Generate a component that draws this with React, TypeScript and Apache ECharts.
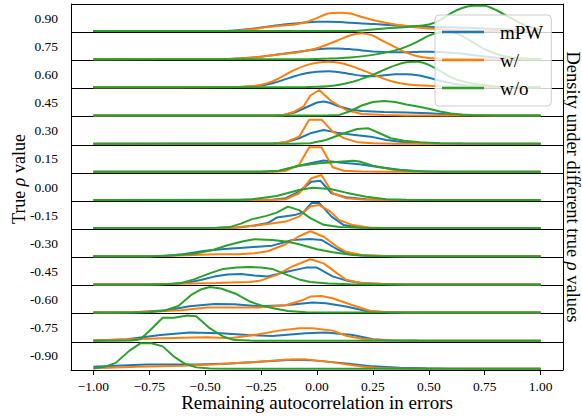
import React, { useEffect, useRef } from "react";
import * as echarts from "echarts";

// True rho values, top row to bottom row
const rhoValues = [0.9, 0.75, 0.6, 0.45, 0.3, 0.15, 0.0, -0.15, -0.3, -0.45, -0.6, -0.75, -0.9];
const xTicks = [-1, -0.75, -0.5, -0.25, 0, 0.25, 0.5, 0.75, 1];
const methodNames = ["mPW", "w/", "w/o"];
const methodColors = ["#1f77b4", "#ff7f0e", "#2ca02c"];

// density estimates, [remaining autocorrelation, density] per row (top to bottom)
const mpwDensity: number[][][] = [
  [[-0.4,0.3],[-0.35,1],[-0.3,2],[-0.25,3.5],[-0.2,5],[-0.15,6.5],[-0.1,7.5],[-0.05,8.5],[0,9.2],[0.05,9.3],[0.1,9],[0.15,8.3],[0.2,7.5],[0.25,7],[0.3,6.3],[0.35,5.6],[0.4,5],[0.45,4.6],[0.5,4.3],[0.55,4],[0.6,3.7],[0.65,3.3],[0.7,3],[0.75,2.5],[0.8,2],[0.85,1.5],[0.9,1],[0.95,0.5],[1,0.2]],
  [[-0.4,0.3],[-0.35,0.8],[-0.3,1.5],[-0.25,2.5],[-0.2,4],[-0.15,5.5],[-0.1,7],[-0.05,8.5],[0,10],[0.05,10.8],[0.1,10.8],[0.15,10],[0.2,8.8],[0.25,7.8],[0.3,7.2],[0.35,7],[0.4,7],[0.45,7.3],[0.5,7.5],[0.55,7.3],[0.6,6.5],[0.65,5.5],[0.7,4],[0.75,2.8],[0.8,1.8],[0.85,1],[0.9,0.5],[0.95,0.2],[1,0]],
  [[-0.35,0.3],[-0.3,0.8],[-0.25,1.8],[-0.2,4],[-0.15,7.5],[-0.1,11],[-0.05,14],[0,15.5],[0.05,16],[0.1,15],[0.15,13.3],[0.2,11.5],[0.25,11],[0.3,12],[0.35,13],[0.4,13],[0.45,12],[0.5,9.5],[0.55,6.5],[0.6,4],[0.65,2.3],[0.7,1.3],[0.75,0.7],[0.8,0.3],[0.9,0.1],[1,0]],
  [[-0.2,0],[-0.15,0.5],[-0.1,3],[-0.05,8],[0,13],[0.03,14],[0.06,12.5],[0.1,9],[0.15,6],[0.2,4.5],[0.3,3.5],[0.4,3],[0.5,2.2],[0.6,1],[0.7,0.4],[0.8,0.1],[0.9,0]],
  [[-0.2,0.2],[-0.14,1.4],[-0.08,5.4],[-0.03,10.3],[0.03,13.7],[0.09,11],[0.16,9],[0.24,7],[0.31,3.7],[0.39,1.4],[0.46,0.5],[0.55,0.1],[0.65,0]],
  [[-0.25,0],[-0.17,0.9],[-0.08,6],[-0.03,8.6],[0.03,11.2],[0.1,9.2],[0.19,7.6],[0.28,4.6],[0.37,2],[0.46,0.5],[0.55,0.1],[0.65,0]],
  [[-0.2,0.2],[-0.14,1.7],[-0.08,8.3],[-0.025,18.3],[0.015,19.3],[0.065,6.7],[0.13,2.7],[0.22,0.7],[0.3,0.2],[0.4,0]],
  [[-0.45,0],[-0.35,0.5],[-0.28,2.5],[-0.22,5],[-0.18,10.5],[-0.1,13],[-0.06,16],[-0.025,25],[0.01,25],[0.065,11.5],[0.12,3],[0.18,0.8],[0.25,0.2],[0.35,0]],
  [[-0.75,0],[-0.68,0.6],[-0.6,2],[-0.5,5.5],[-0.4,7.5],[-0.33,8.6],[-0.2,10.6],[-0.11,16.3],[-0.03,17.3],[0.02,16.3],[0.09,7],[0.14,2.3],[0.2,0.7],[0.3,0.2],[0.4,0]],
  [[-0.75,0],[-0.65,0.5],[-0.58,1.8],[-0.52,4.5],[-0.46,7.8],[-0.4,9.8],[-0.34,10.5],[-0.28,8.8],[-0.22,8],[-0.14,12.5],[-0.05,16.8],[0,16.8],[0.07,8],[0.14,3.3],[0.2,1.3],[0.3,0.3],[0.4,0]],
  [[-0.9,0],[-0.82,0.3],[-0.67,2.3],[-0.57,6.3],[-0.46,8.6],[-0.37,8.3],[-0.26,6.3],[-0.14,7.3],[-0.02,10],[0.04,9.3],[0.13,6],[0.22,1.6],[0.3,0.5],[0.4,0.1],[0.5,0]],
  [[-1,0.3],[-0.85,1.5],[-0.7,5.8],[-0.57,8.1],[-0.43,7.5],[-0.31,5.8],[-0.2,4.8],[-0.05,7.5],[0.04,8.1],[0.16,5.8],[0.25,1.5],[0.33,0.4],[0.45,0.1],[0.55,0]],
  [[-1,2],[-0.9,3],[-0.76,4.3],[-0.54,4.3],[-0.39,5.3],[-0.24,7.3],[-0.11,9],[-0.02,8.5],[0.13,5.5],[0.25,2.5],[0.37,1.2],[0.49,0.6],[0.6,0.2],[0.75,0]],
];

const withDensity: number[][][] = [
  [[-0.4,0],[-0.35,0.5],[-0.3,1.5],[-0.25,3],[-0.2,4.5],[-0.15,5.5],[-0.1,6.5],[-0.05,9],[0,13],[0.05,17.5],[0.1,18.3],[0.15,17.5],[0.2,14],[0.25,11],[0.3,8.5],[0.35,6.5],[0.4,5],[0.45,3.5],[0.5,2.5],[0.55,2],[0.6,1],[0.65,0.5],[0.7,0]],
  [[-0.4,0.3],[-0.35,0.7],[-0.3,1.5],[-0.25,2.5],[-0.2,4],[-0.15,5.3],[-0.1,6.5],[-0.05,8.5],[0,11],[0.05,15],[0.1,19.5],[0.15,24],[0.2,26],[0.25,23.5],[0.3,17.5],[0.35,12],[0.4,6.5],[0.45,3],[0.5,1.2],[0.55,0.5],[0.6,0.2],[0.7,0]],
  [[-0.35,0.3],[-0.3,1],[-0.25,2.5],[-0.2,6],[-0.15,11.5],[-0.1,17.5],[-0.05,22],[0,24.5],[0.05,25.5],[0.1,24.5],[0.15,21.5],[0.2,17.5],[0.25,13],[0.3,8.5],[0.35,5],[0.4,3],[0.45,2],[0.5,1.5],[0.55,1.2],[0.6,1],[0.65,0.8],[0.7,0.6],[0.8,0.3],[0.9,0.1],[1,0]],
  [[-0.2,0],[-0.15,0.3],[-0.1,4],[-0.06,9],[-0.03,20],[0.01,25.5],[0.06,15],[0.13,5.5],[0.2,1.5],[0.3,0.4],[0.4,0]],
  [[-0.2,0],[-0.14,1.4],[-0.08,7],[-0.035,24],[0.02,24],[0.07,12],[0.12,5.5],[0.18,1.5],[0.25,0.4],[0.35,0]],
  [[-0.2,0],[-0.14,0.9],[-0.08,7],[-0.035,24.6],[0.02,24.6],[0.07,4.6],[0.12,1],[0.2,0.3],[0.3,0]],
  [[-0.2,0],[-0.14,0.7],[-0.08,6.7],[-0.025,21.7],[0.02,25],[0.07,6.7],[0.13,1.7],[0.2,0.4],[0.3,0]],
  [[-0.45,0],[-0.37,0.5],[-0.3,2],[-0.22,4],[-0.14,6.5],[-0.08,11.5],[-0.03,21.5],[0.01,23],[0.06,16.5],[0.1,8],[0.16,3],[0.23,0.7],[0.3,0.2],[0.4,0]],
  [[-0.75,0],[-0.65,0.5],[-0.55,1.3],[-0.45,2],[-0.35,2],[-0.28,3],[-0.22,5],[-0.14,12],[-0.08,20],[-0.03,25],[0.03,19.5],[0.09,9.5],[0.13,4.5],[0.2,1.2],[0.3,0.3],[0.4,0]],
  [[-0.75,0],[-0.65,0.5],[-0.55,1],[-0.45,1.5],[-0.35,2.2],[-0.3,2.4],[-0.25,4],[-0.18,9.5],[-0.11,18],[-0.03,25.2],[0.03,21],[0.09,11],[0.13,4.6],[0.2,1.2],[0.3,0.3],[0.4,0]],
  [[-0.9,0],[-0.8,0.3],[-0.7,1.2],[-0.61,2.3],[-0.49,5],[-0.37,5],[-0.26,5],[-0.14,7.3],[-0.07,12],[-0.03,16],[0.02,16.6],[0.07,14.3],[0.16,7.3],[0.24,1.6],[0.32,0.3],[0.4,0]],
  [[-1,0.2],[-0.85,1.2],[-0.69,2.5],[-0.55,3.3],[-0.49,3.5],[-0.39,2.5],[-0.28,5.8],[-0.17,10.1],[-0.08,12.5],[-0.02,12.5],[0.07,10.1],[0.13,5],[0.2,2],[0.26,0.7],[0.35,0.2],[0.45,0]],
  [[-1,0.5],[-0.8,2],[-0.6,3.2],[-0.45,4.5],[-0.3,6.5],[-0.15,9],[-0.05,9.5],[0.04,7.5],[0.1,5.5],[0.16,3.5],[0.22,1.8],[0.3,0.5],[0.4,0]],
];

const withoutDensity: number[][][] = [
  [[0.15,0],[0.2,0.5],[0.25,1.5],[0.3,2.5],[0.35,3.3],[0.4,4],[0.45,5],[0.5,6.5],[0.55,11],[0.6,18],[0.65,23],[0.7,25.3],[0.75,25.3],[0.8,21],[0.85,15],[0.9,9],[0.95,4],[1,1.5]],
  [[-0.05,0],[0,0.3],[0.05,0.6],[0.1,1],[0.15,1.7],[0.2,2.8],[0.25,4.3],[0.3,6.3],[0.35,8.8],[0.4,12.5],[0.45,17.5],[0.5,23.5],[0.55,27],[0.6,27.5],[0.65,23],[0.7,16.5],[0.75,10],[0.8,5.5],[0.85,2.5],[0.9,1],[0.95,0.4],[1,0.1]],
  [[-0.1,0],[-0.05,0.2],[0,0.5],[0.05,1.2],[0.1,2.5],[0.15,5],[0.2,8.5],[0.25,12.5],[0.3,17.5],[0.35,22],[0.4,25],[0.45,25.5],[0.5,22.5],[0.55,16.5],[0.6,10],[0.65,6],[0.7,3.5],[0.75,2],[0.8,1],[0.85,0.5],[0.9,0.2],[1,0]],
  [[0,0],[0.05,0.2],[0.1,0.6],[0.15,4.5],[0.2,10],[0.25,13.5],[0.3,14.6],[0.35,13.5],[0.4,11],[0.45,9],[0.5,6.8],[0.55,4],[0.6,2],[0.65,0.8],[0.7,0.3],[0.8,0]],
  [[-0.1,0],[-0.03,0.4],[0.04,3.7],[0.12,10.4],[0.18,14.7],[0.23,15.3],[0.28,10.4],[0.33,5.4],[0.39,3],[0.46,1.4],[0.55,0.5],[0.65,0.1],[0.75,0]],
  [[-0.25,0],[-0.17,1],[-0.08,6],[0.01,8.6],[0.07,9.6],[0.16,11],[0.19,10.3],[0.25,6],[0.34,2.2],[0.42,0.8],[0.5,0.2],[0.6,0]],
  [[-0.35,0],[-0.29,0.7],[-0.18,4],[-0.08,10],[-0.02,12.3],[0.06,11],[0.13,7.3],[0.22,3.3],[0.31,0.8],[0.4,0.2],[0.5,0]],
  [[-0.5,0],[-0.45,0.3],[-0.39,1],[-0.34,4.5],[-0.29,9],[-0.23,12],[-0.18,15.5],[-0.13,21.5],[-0.08,18],[-0.03,10],[0.03,3.3],[0.1,1],[0.2,0.3],[0.3,0]],
  [[-0.75,0],[-0.65,0.8],[-0.55,2.5],[-0.47,6],[-0.4,11],[-0.33,15],[-0.28,17],[-0.2,16.3],[-0.13,14.6],[-0.08,12],[0,7],[0.07,4],[0.16,1.3],[0.25,0.3],[0.35,0]],
  [[-0.75,0],[-0.67,0.5],[-0.61,1.2],[-0.55,5],[-0.48,11],[-0.42,15.5],[-0.36,17],[-0.3,17.3],[-0.25,17],[-0.2,15.5],[-0.14,10],[-0.08,5],[-0.03,2.5],[0.05,0.8],[0.15,0.2],[0.25,0]],
  [[-0.85,0],[-0.75,0.3],[-0.68,2],[-0.62,6.5],[-0.56,18],[-0.52,23],[-0.48,25.5],[-0.43,24],[-0.36,18.5],[-0.3,11],[-0.25,7],[-0.19,4],[-0.13,1.5],[-0.05,0.4],[0.05,0]],
  [[-0.9,0],[-0.83,0.3],[-0.79,1.5],[-0.745,10.8],[-0.69,23],[-0.64,23],[-0.58,25.3],[-0.54,24.5],[-0.48,12.5],[-0.42,4.2],[-0.37,0.6],[-0.3,0.1],[-0.2,0]],
  [[-1,0.3],[-0.95,2],[-0.9,6],[-0.84,18],[-0.79,25.5],[-0.74,25.7],[-0.69,22.5],[-0.64,12.3],[-0.59,5],[-0.54,1.5],[-0.48,0.3],[-0.4,0]],
];

const densities = [mpwDensity, withDensity, withoutDensity];

const FONT = "'Liberation Serif', 'DejaVu Serif', serif";
const ROW_SCALE = 1 / 28.15; // density units -> row heights
const REST_OFFSET = 0.04;

function padCurve(c: number[][]): number[][] {
  const out = c.slice();
  if (out[0][0] > -1) out.unshift([-1, 0]);
  if (out[out.length - 1][0] < 1) out.push([1, 0]);
  return out;
}

function fmtX(v: number): string {
  const s = Math.abs(v).toFixed(2);
  return v < 0 ? "\u2212" + s : s;
}

export default function App() {
  const ref = useRef<HTMLDivElement>(null);
  useEffect(() => {
    if (!ref.current) return;
    const chart = echarts.init(ref.current, undefined, { renderer: "svg" });
    const n = rhoValues.length;
    const series: any[] = [];
    rhoValues.forEach((rho, i) => {
      const base = n - 1 - i;
      densities.forEach((set, m) => {
        series.push({
          type: "line",
          name: methodNames[m],
          xAxisIndex: 0,
          yAxisIndex: 0,
          data: padCurve(set[i]).map(([x, d]) => [x, base + REST_OFFSET + d * ROW_SCALE]),
          symbol: "none",
          showSymbol: false,
          smooth: i < 3 ? 0.25 : false,
          lineStyle: { width: 2, color: methodColors[m] },
          itemStyle: { color: methodColors[m] },
          z: 2 + m * 0.01,
        });
      });
    });
    const labelCenters = rhoValues.map((_, i) => n - 1 - i + 0.5);
    chart.setOption({
      animation: false,
      textStyle: { fontFamily: FONT },
      grid: { left: 71, right: 19, top: 4, bottom: 49, containLabel: false, outerBoundsMode: "none" },
      xAxis: {
        type: "value",
        min: -1.1,
        max: 1.1,
        name: "Remaining autocorrelation in errors",
        nameLocation: "middle",
        nameGap: 23,
        nameMoveOverlap: false,
        nameTextStyle: { fontSize: 19, color: "#000", fontFamily: FONT },
        axisLine: { show: true, onZero: false, lineStyle: { color: "#000", width: 1 } },
        axisTick: { show: true, length: 5, lineStyle: { color: "#000", width: 1 }, customValues: xTicks },
        axisLabel: { customValues: xTicks, formatter: (v: number) => fmtX(v), color: "#000", fontSize: 13.5, margin: 9, fontFamily: FONT },
        splitLine: { show: false },
      },
      yAxis: [
        {
          type: "value",
          min: 0,
          max: n,
          interval: 1,
          position: "left",
          name: "True {i|ρ} value",
          nameLocation: "middle",
          nameRotate: 90,
          nameGap: 43,
          nameMoveOverlap: false,
          nameTextStyle: {
            fontSize: 18, color: "#000", fontFamily: FONT, padding: [0, 0, 0, 16],
            rich: { i: { fontStyle: "italic", fontSize: 18, color: "#000", fontFamily: FONT } },
          },
          axisLine: { show: true, onZero: false, lineStyle: { color: "#000", width: 1 } },
          axisTick: { show: false },
          axisLabel: {
            customValues: labelCenters,
            formatter: (v: number) => {
              const idx = Math.round(n - 1 - (v - 0.5));
              const r = rhoValues[idx];
              return r === undefined ? "" : r.toFixed(2);
            },
            color: "#000",
            fontSize: 13.5,
            margin: 13,
            fontFamily: FONT,
          },
          splitLine: { show: true, lineStyle: { color: "#000", width: 1 } },
        },
        {
          type: "value",
          min: 0,
          max: n,
          interval: 1,
          position: "right",
          name: "Density under different true {i|ρ} values",
          nameLocation: "middle",
          nameRotate: -90,
          nameGap: 1,
          nameMoveOverlap: false,
          nameTextStyle: {
            fontSize: 18.5, lineHeight: 18, color: "#000", fontFamily: FONT,
            rich: { i: { fontStyle: "italic", fontSize: 18.5, lineHeight: 18, color: "#000", fontFamily: FONT } },
          },
          axisLine: { show: true, onZero: false, lineStyle: { color: "#000", width: 1 } },
          axisTick: { show: false },
          axisLabel: { show: false },
          splitLine: { show: false },
        },
      ],
      legend: {
        data: methodNames,
        orient: "vertical",
        left: 435,
        top: 15,
        padding: [7, 8, 8, 7],
        itemGap: 8,
        itemWidth: 42,
        itemHeight: 2.5,
        icon: "rect",
        backgroundColor: "rgba(255,255,255,0.8)",
        borderColor: "#cccccc",
        borderWidth: 1,
        borderRadius: 4,
        textStyle: { fontSize: 19, color: "#000", fontFamily: FONT, lineHeight: 20, padding: [0, 0, 0, 11] },
      },
      series,
    });
    return () => chart.dispose();
  }, []);
  return (
    <div
      ref={ref}
      style={{ position: "absolute", left: 0, top: 0, width: 582, height: 419 }}
    />
  );
}
